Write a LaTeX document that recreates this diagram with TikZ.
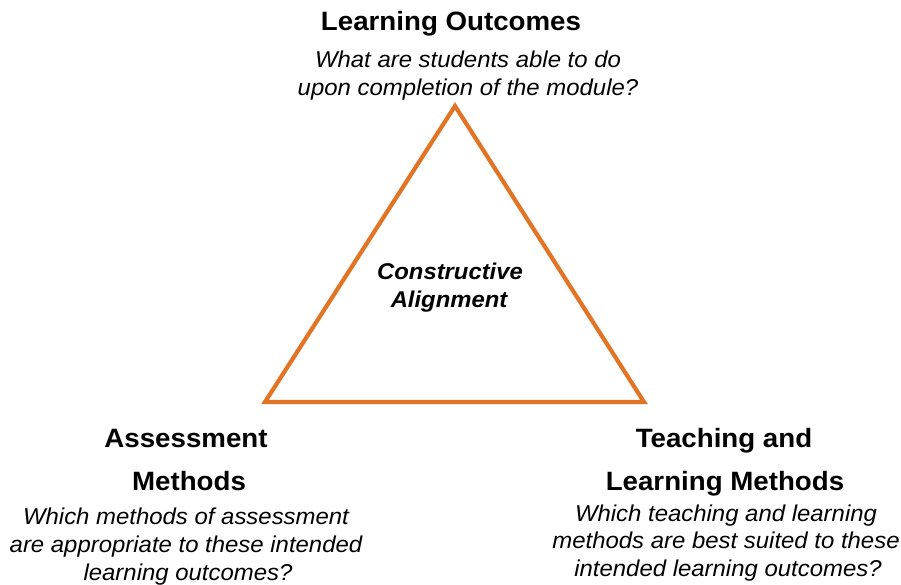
\documentclass[tikz,border=0pt]{standalone}
\usepackage{fontspec}
\setmainfont{Liberation Sans}[FakeStretch=1.045]
\definecolor{triorange}{RGB}{226,116,38}
\begin{document}
\begin{tikzpicture}[x=1pt,y=-1pt,
  head/.style={anchor=base,inner sep=0pt,font=\fontsize{26.5}{30}\selectfont\bfseries},
  quest/.style={anchor=base,inner sep=0pt,font=\fontsize{22.9}{28}\selectfont\itshape},
  core/.style={anchor=base,inner sep=0pt,font=\fontsize{22.8}{28}\selectfont\bfseries\itshape}]
\useasboundingbox (0,0) rectangle (901,585);
\coordinate (top) at (455,106);
\coordinate (bl) at (265,402);
\coordinate (br) at (644,402);
\draw[triorange,line width=4.2pt,line join=miter] (top) -- (br) -- (bl) -- cycle;
% top
\node[head] (lo) at (451,31) {Learning Outcomes};
\node[quest] (lo1) at (468,68) {What are students able to do};
\node[quest] (lo2) at (468,96) {upon completion of the module?};
% centre
\node[core] (ca1) at (450,279) {Constructive};
\node[core] (ca2) at (449,307) {Alignment};
% bottom left
\node[head] (am1) at (186,447) {Assessment};
\node[head] (am2) at (189,490) {Methods};
\node[quest] (am3) at (186,524) {Which methods of assessment};
\node[quest] (am4) at (186,552) {are appropriate to these intended};
\node[quest] (am5) at (188,580) {learning outcomes?};
% bottom right
\node[head] (tl1) at (724,447) {Teaching and};
\node[head] (tl2) at (725,490) {Learning Methods};
\node[quest] (tl3) at (726,521) {Which teaching and learning};
\node[quest] (tl4) at (726,548) {methods are best suited to these};
\node[quest] (tl5) at (728,576) {intended learning outcomes?};
\end{tikzpicture}
\end{document}
